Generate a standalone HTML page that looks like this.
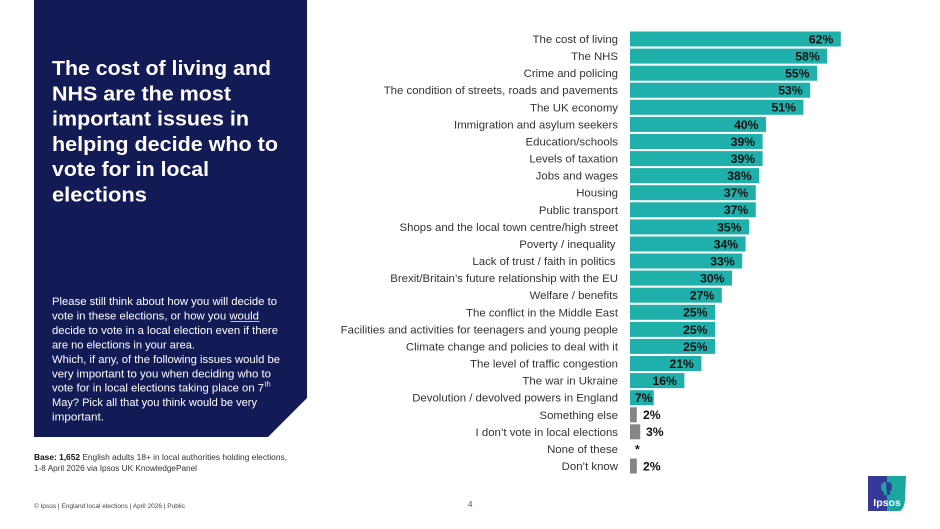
<!DOCTYPE html>
<html>
<head>
<meta charset="utf-8">
<style>
  html,body{margin:0;padding:0;background:#fff;}
  body{width:940px;height:529px;overflow:hidden;}
  svg{display:block;}
  text{font-family:"Liberation Sans",sans-serif;}
</style>
</head>
<body>
<svg width="940" height="529" viewBox="0 0 940 529" xmlns="http://www.w3.org/2000/svg">
  <!-- Left navy panel -->
  <polygon points="34,0 307,0 307,398 268,437 34,437" fill="#131b57"/>

  <!-- Title -->
  <g fill="#ffffff" font-weight="bold" font-size="20">
    <text x="52" y="75" textLength="219" lengthAdjust="spacingAndGlyphs">The cost of living and</text>
    <text x="52" y="100.3" textLength="179" lengthAdjust="spacingAndGlyphs">NHS are the most</text>
    <text x="52" y="125.6" textLength="197" lengthAdjust="spacingAndGlyphs">important issues in</text>
    <text x="52" y="150.9" textLength="226" lengthAdjust="spacingAndGlyphs">helping decide who to</text>
    <text x="52" y="176.2" textLength="157" lengthAdjust="spacingAndGlyphs">vote for in local</text>
    <text x="52" y="201.5" textLength="95" lengthAdjust="spacingAndGlyphs">elections</text>
  </g>

  <!-- Question text -->
  <g fill="#ffffff" font-size="11.2">
    <text x="52" y="305" textLength="225" lengthAdjust="spacingAndGlyphs">Please still think about how you will decide to</text>
    <text x="52" y="319.5" textLength="207" lengthAdjust="spacingAndGlyphs">vote in these elections, or  how you would</text>
    <text x="52" y="333.9" textLength="226" lengthAdjust="spacingAndGlyphs">decide to vote in a local election even if there</text>
    <text x="52" y="348.4" textLength="143" lengthAdjust="spacingAndGlyphs">are no elections in your area.</text>
    <text x="52" y="362.8" textLength="228" lengthAdjust="spacingAndGlyphs">Which, if any, of the following issues would be</text>
    <text x="52" y="377.3" textLength="219" lengthAdjust="spacingAndGlyphs">very important to you when deciding who to</text>
    <text x="52" y="391.7" textLength="212" lengthAdjust="spacingAndGlyphs">vote for in local elections taking place on 7</text>
    <text x="264.8" y="386.5" font-size="7">th</text>
    <text x="52" y="406.2" textLength="205" lengthAdjust="spacingAndGlyphs">May? Pick all that you think would be very</text>
    <text x="52" y="420.6" textLength="52" lengthAdjust="spacingAndGlyphs">important.</text>
  </g>
  <line x1="230.5" y1="321.5" x2="259.5" y2="321.5" stroke="#ffffff" stroke-width="0.8"/>

  <!-- Base text -->
  <g fill="#333333" font-size="8.6">
    <text x="34" y="460" textLength="253" lengthAdjust="spacingAndGlyphs"><tspan font-weight="bold" fill="#111">Base: 1,652</tspan> English adults 18+ in local authorities holding elections,</text>
    <text x="34" y="471" textLength="163" lengthAdjust="spacingAndGlyphs">1-8 April 2026 via Ipsos UK KnowledgePanel</text>
  </g>

  <!-- Footer -->
  <text x="34" y="508" font-size="6.6" fill="#444" textLength="151" lengthAdjust="spacingAndGlyphs">© Ipsos | England local elections | April 2026 | Public</text>
  <text x="468" y="507" font-size="8" fill="#555">4</text>

  <!-- Chart labels -->
  <g fill="#333333" font-size="11.4" text-anchor="end">
    <text x="618" y="43">The cost of living</text>
    <text x="618" y="60.1">The NHS</text>
    <text x="618" y="77.2">Crime and policing</text>
    <text x="618" y="94.2">The condition of streets, roads and pavements</text>
    <text x="618" y="111.3">The UK economy</text>
    <text x="618" y="128.4">Immigration and asylum seekers</text>
    <text x="618" y="145.5">Education/schools</text>
    <text x="618" y="162.6">Levels of taxation</text>
    <text x="618" y="179.6">Jobs and wages</text>
    <text x="618" y="196.7">Housing</text>
    <text x="618" y="213.8">Public transport</text>
    <text x="618" y="230.9">Shops and the local town centre/high street</text>
    <text x="615.5" y="248">Poverty / inequality</text>
    <text x="615.5" y="265">Lack of trust / faith in politics</text>
    <text x="618" y="282.1">Brexit/Britain’s future relationship with the EU</text>
    <text x="618" y="299.2">Welfare / benefits</text>
    <text x="618" y="316.3">The conflict in the Middle East</text>
    <text x="618" y="333.4">Facilities and activities for teenagers and young people</text>
    <text x="618" y="350.4">Climate change and policies to deal with it</text>
    <text x="618" y="367.5">The level of traffic congestion</text>
    <text x="618" y="384.6">The war in Ukraine</text>
    <text x="618" y="401.7">Devolution / devolved powers in England</text>
    <text x="618" y="418.8">Something else</text>
    <text x="618" y="435.8">I don’t vote in local elections</text>
    <text x="618" y="452.9">None of these</text>
    <text x="618" y="470">Don’t know</text>
  </g>

  <!-- Bars -->
  <g fill="#20b0ab">
    <rect x="630" y="31.5" width="210.8" height="15"/>
    <rect x="630" y="48.6" width="197.2" height="15"/>
    <rect x="630" y="65.7" width="187" height="15"/>
    <rect x="630" y="82.7" width="180.2" height="15"/>
    <rect x="630" y="99.8" width="173.4" height="15"/>
    <rect x="630" y="116.9" width="136" height="15"/>
    <rect x="630" y="134" width="132.6" height="15"/>
    <rect x="630" y="151.1" width="132.6" height="15"/>
    <rect x="630" y="168.1" width="129.2" height="15"/>
    <rect x="630" y="185.2" width="125.8" height="15"/>
    <rect x="630" y="202.3" width="125.8" height="15"/>
    <rect x="630" y="219.4" width="119" height="15"/>
    <rect x="630" y="236.5" width="115.6" height="15"/>
    <rect x="630" y="253.5" width="112.2" height="15"/>
    <rect x="630" y="270.6" width="102" height="15"/>
    <rect x="630" y="287.7" width="91.8" height="15"/>
    <rect x="630" y="304.8" width="85" height="15"/>
    <rect x="630" y="321.9" width="85" height="15"/>
    <rect x="630" y="338.9" width="85" height="15"/>
    <rect x="630" y="356" width="71.4" height="15"/>
    <rect x="630" y="373.1" width="54.4" height="15"/>
    <rect x="630" y="390.2" width="23.8" height="15"/>
  </g>
  <g fill="#858585">
    <rect x="630" y="407.3" width="6.8" height="15"/>
    <rect x="630" y="424.3" width="10.2" height="15"/>
    <rect x="630" y="458.5" width="6.8" height="15"/>
  </g>

  <!-- Value labels -->
  <g fill="#111111" font-size="12.2" font-weight="bold" text-anchor="end">
    <text x="833.3" y="43.4">62%</text>
    <text x="819.7" y="60.5">58%</text>
    <text x="809.5" y="77.6">55%</text>
    <text x="802.7" y="94.6">53%</text>
    <text x="795.9" y="111.7">51%</text>
    <text x="758.5" y="128.8">40%</text>
    <text x="755.1" y="145.9">39%</text>
    <text x="755.1" y="163">39%</text>
    <text x="751.7" y="180">38%</text>
    <text x="748.3" y="197.1">37%</text>
    <text x="748.3" y="214.2">37%</text>
    <text x="741.5" y="231.3">35%</text>
    <text x="738.1" y="248.4">34%</text>
    <text x="734.7" y="265.4">33%</text>
    <text x="724.5" y="282.5">30%</text>
    <text x="714.3" y="299.6">27%</text>
    <text x="707.5" y="316.7">25%</text>
    <text x="707.5" y="333.8">25%</text>
    <text x="707.5" y="350.8">25%</text>
    <text x="693.9" y="367.9">21%</text>
    <text x="676.9" y="385">16%</text>
    <text x="652.5" y="402.1">7%</text>
  </g>
  <g fill="#111111" font-size="12.2" font-weight="bold">
    <text x="643" y="419.2">2%</text>
    <text x="646" y="436.2">3%</text>
    <text x="635" y="453.3">*</text>
    <text x="643" y="470.4">2%</text>
  </g>

  <!-- Ipsos logo -->
  <g>
    <rect x="868" y="476" width="19" height="35" fill="#34399a"/>
    <path d="M887,476 L906,476 L905,500 Q904,509 900,511 L887,511 Z" fill="#1ba59f"/>
    <path d="M886,482 q-5,0 -5,5 q0,4 3,5 l0,3 l3,0 Z" fill="#1ba59f"/>
    <path d="M887,482 q5,0 5,5 q0,3 -2,4 l0,4 l-3,0 Z" fill="#34399a"/>
    <text x="887" y="506" font-size="10.5" font-weight="bold" fill="#ffffff" text-anchor="middle">Ipsos</text>
  </g>
</svg>
</body>
</html>
